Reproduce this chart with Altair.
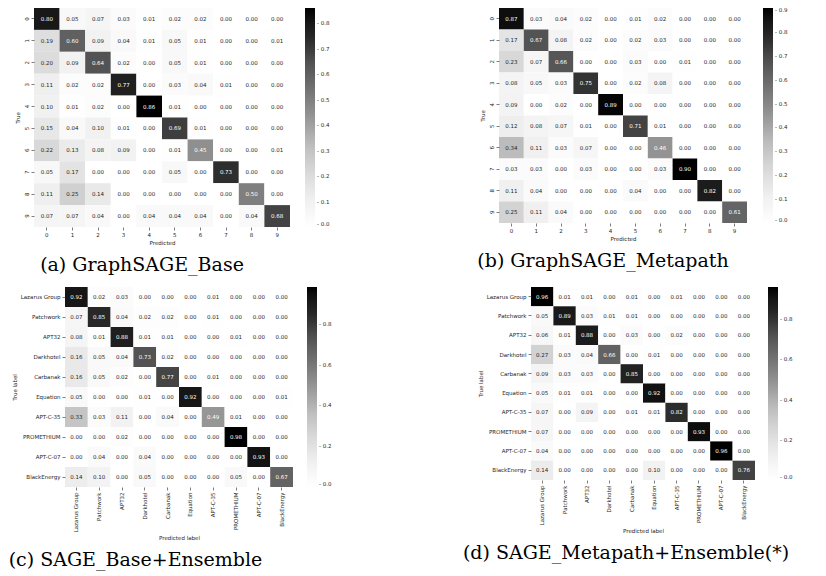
import altair as alt
import pandas as pd

digits = [str(i) for i in range(10)]
groups = ["Lazarus Group", "Patchwork", "APT32", "Darkhotel", "Carbanak",
          "Equation", "APT-C-35", "PROMETHIUM", "APT-C-07", "BlackEnergy"]

sage_base = [
    [0.80, 0.05, 0.07, 0.03, 0.01, 0.02, 0.02, 0.00, 0.00, 0.00],
    [0.19, 0.60, 0.09, 0.04, 0.01, 0.05, 0.01, 0.00, 0.00, 0.01],
    [0.20, 0.09, 0.64, 0.02, 0.00, 0.05, 0.01, 0.00, 0.00, 0.00],
    [0.11, 0.02, 0.02, 0.77, 0.00, 0.03, 0.04, 0.01, 0.00, 0.00],
    [0.10, 0.01, 0.02, 0.00, 0.86, 0.01, 0.00, 0.00, 0.00, 0.00],
    [0.15, 0.04, 0.10, 0.01, 0.00, 0.69, 0.01, 0.00, 0.00, 0.00],
    [0.22, 0.13, 0.08, 0.09, 0.00, 0.01, 0.45, 0.00, 0.00, 0.01],
    [0.05, 0.17, 0.00, 0.00, 0.00, 0.05, 0.00, 0.73, 0.00, 0.00],
    [0.11, 0.25, 0.14, 0.00, 0.00, 0.00, 0.00, 0.00, 0.50, 0.00],
    [0.07, 0.07, 0.04, 0.00, 0.04, 0.04, 0.04, 0.00, 0.04, 0.68],
]
sage_metapath = [
    [0.87, 0.03, 0.04, 0.02, 0.00, 0.01, 0.02, 0.00, 0.00, 0.00],
    [0.17, 0.67, 0.08, 0.02, 0.00, 0.02, 0.03, 0.00, 0.00, 0.00],
    [0.23, 0.07, 0.66, 0.00, 0.00, 0.03, 0.00, 0.01, 0.00, 0.00],
    [0.08, 0.05, 0.03, 0.75, 0.00, 0.02, 0.08, 0.00, 0.00, 0.00],
    [0.09, 0.00, 0.02, 0.00, 0.89, 0.00, 0.00, 0.00, 0.00, 0.00],
    [0.12, 0.08, 0.07, 0.01, 0.00, 0.71, 0.01, 0.00, 0.00, 0.00],
    [0.34, 0.11, 0.03, 0.07, 0.00, 0.00, 0.46, 0.00, 0.00, 0.00],
    [0.03, 0.03, 0.00, 0.03, 0.00, 0.00, 0.03, 0.90, 0.00, 0.00],
    [0.11, 0.04, 0.00, 0.00, 0.00, 0.04, 0.00, 0.00, 0.82, 0.00],
    [0.25, 0.11, 0.04, 0.00, 0.00, 0.00, 0.00, 0.00, 0.00, 0.61],
]
base_ensemble = [
    [0.92, 0.02, 0.03, 0.00, 0.00, 0.00, 0.01, 0.00, 0.00, 0.00],
    [0.07, 0.85, 0.04, 0.02, 0.02, 0.00, 0.01, 0.00, 0.00, 0.00],
    [0.08, 0.01, 0.88, 0.01, 0.01, 0.00, 0.00, 0.01, 0.00, 0.00],
    [0.16, 0.05, 0.04, 0.73, 0.02, 0.00, 0.00, 0.00, 0.00, 0.00],
    [0.16, 0.05, 0.02, 0.00, 0.77, 0.00, 0.01, 0.00, 0.00, 0.00],
    [0.05, 0.00, 0.00, 0.01, 0.00, 0.92, 0.00, 0.00, 0.00, 0.01],
    [0.33, 0.03, 0.11, 0.00, 0.04, 0.00, 0.49, 0.01, 0.00, 0.00],
    [0.00, 0.00, 0.02, 0.00, 0.00, 0.00, 0.00, 0.98, 0.00, 0.00],
    [0.00, 0.04, 0.00, 0.04, 0.00, 0.00, 0.00, 0.00, 0.93, 0.00],
    [0.14, 0.10, 0.00, 0.05, 0.00, 0.00, 0.00, 0.05, 0.00, 0.67],
]
metapath_ensemble = [
    [0.96, 0.01, 0.01, 0.00, 0.01, 0.00, 0.01, 0.00, 0.00, 0.00],
    [0.05, 0.89, 0.03, 0.01, 0.01, 0.00, 0.00, 0.00, 0.00, 0.00],
    [0.06, 0.01, 0.88, 0.00, 0.03, 0.00, 0.02, 0.00, 0.00, 0.00],
    [0.27, 0.03, 0.04, 0.66, 0.00, 0.01, 0.00, 0.00, 0.00, 0.00],
    [0.09, 0.03, 0.03, 0.00, 0.85, 0.00, 0.00, 0.00, 0.00, 0.00],
    [0.05, 0.01, 0.01, 0.00, 0.00, 0.92, 0.00, 0.00, 0.00, 0.00],
    [0.07, 0.00, 0.09, 0.00, 0.01, 0.01, 0.82, 0.00, 0.00, 0.00],
    [0.07, 0.00, 0.00, 0.00, 0.00, 0.00, 0.00, 0.93, 0.00, 0.00],
    [0.04, 0.00, 0.00, 0.00, 0.00, 0.00, 0.00, 0.00, 0.96, 0.00],
    [0.14, 0.00, 0.00, 0.00, 0.00, 0.10, 0.00, 0.00, 0.00, 0.76],
]

ticks_a = [0.0, 0.1, 0.2, 0.3, 0.4, 0.5, 0.6, 0.7, 0.8]
ticks_b = [0.0, 0.1, 0.2, 0.3, 0.4, 0.5, 0.6, 0.7, 0.8, 0.9]
ticks_cd = [0.0, 0.2, 0.4, 0.6, 0.8]

captions = ["(a) GraphSAGE_Base", "(b) GraphSAGE_Metapath",
            "(c) SAGE_Base+Ensemble", "(d) SAGE_Metapath+Ensemble(*)"]

# matplotlib "Greys" colormap stops
greys = ["#ffffff", "#f0f0f0", "#d9d9d9", "#bdbdbd", "#969696",
         "#737373", "#525252", "#252525", "#000000"]

TXT = "#262626"
SERIF = "DejaVu Serif"


def to_long(mat, labels):
    rows = []
    for i, r in enumerate(mat):
        for j, v in enumerate(r):
            rows.append({"true": labels[i], "pred": labels[j], "v": v})
    return pd.DataFrame(rows)


def panel(mat, labels, ticks, xtitle, ytitle, caption, w, h, names, dx, loff, toff, lead=0):
    df = to_long(mat, labels)
    vmax = max(max(r) for r in mat)
    dom = [vmax * i / (len(greys) - 1) for i in range(len(greys))]
    if names:
        xaxis = alt.Axis(labelAngle=-90, title=xtitle, labelPadding=2, titlePadding=4,
                         titleX=lead + (w - lead) / 2)
        yaxis = alt.Axis(labelAngle=0, title=ytitle, labelPadding=2, titlePadding=3,
                         offset=-lead)
    else:
        xaxis = alt.Axis(labelAngle=0, title=xtitle, labelPadding=2, titlePadding=3)
        yaxis = alt.Axis(labelAngle=-90, title=ytitle, labelPadding=2, titlePadding=4,
                         labelAlign="center", labelBaseline="bottom")
    xscale = alt.Scale(rangeMin=lead) if lead else alt.Scale()
    x = alt.X("pred:N", sort=labels, axis=xaxis, scale=xscale)
    y = alt.Y("true:N", sort=labels, axis=yaxis)
    rect = alt.Chart(df).mark_rect().encode(
        x=x, y=y,
        color=alt.Color("v:Q", scale=alt.Scale(domain=dom, range=greys),
                        legend=alt.Legend(title=None, direction="vertical", orient="right",
                                          gradientLength=h, gradientThickness=10,
                                          gradientStrokeWidth=0, values=ticks,
                                          labelExpr="'- ' + format(datum.value, '.1f')",
                                          labelFontSize=5.5, labelFont="DejaVu Sans",
                                          labelColor=TXT, labelBaseline="middle",
                                          labelOverlap=False, offset=loff, padding=0)),
    )
    text = alt.Chart(df).mark_text(fontSize=5.5, font="DejaVu Sans").encode(
        x=alt.X("pred:N", sort=labels),
        y=alt.Y("true:N", sort=labels),
        text=alt.Text("v:Q", format=".2f"),
        color=alt.condition(f"datum.v > {0.45 * vmax}", alt.value("white"), alt.value(TXT)),
    )
    return alt.layer(rect, text).properties(
        width=w, height=h,
        title=alt.TitleParams(caption, orient="bottom", anchor="middle", frame="group",
                              font=SERIF, fontSize=19,
                              fontWeight="normal", color="black", dx=dx, offset=toff),
    )


pa = panel(sage_base, digits, ticks_a, "Predicted", "True", captions[0], 256, 219, False, -20, 15, 10)
pb = panel(sage_metapath, digits, ticks_b, "Predicted", "True", captions[1], 248, 215, False, -20, 16, 10)
pc = panel(base_ensemble, groups, ticks_cd, "Predicted label", "True label", captions[2], 259, 200, True, -28, 14, 10, lead=31)
pd_ = panel(metapath_ensemble, groups, ticks_cd, "Predicted label", "True label", captions[3], 224, 193, True, -17, 13, 10)

row1 = alt.hconcat(pa, pb, bounds="flush", spacing=209).resolve_scale(color="independent")
row2 = alt.hconcat(pc, pd_, bounds="flush", spacing=238).resolve_scale(color="independent")

chart = alt.concat(row1, row2, columns=1, align="none", spacing=12).resolve_scale(
    color="independent"
).properties(
    padding={"left": 0, "top": 0, "right": 0, "bottom": 0}
).configure_view(stroke=None).configure_axis(
    domain=False, grid=False, tickColor=TXT, tickSize=3, tickWidth=0.6,
    labelFont="DejaVu Sans", labelFontSize=5.5, labelColor=TXT,
    titleFont="DejaVu Sans", titleFontSize=5.5, titleFontWeight="normal", titleColor=TXT,
)

chart.save("out.html", embed_options={"renderer": "svg", "actions": False})
